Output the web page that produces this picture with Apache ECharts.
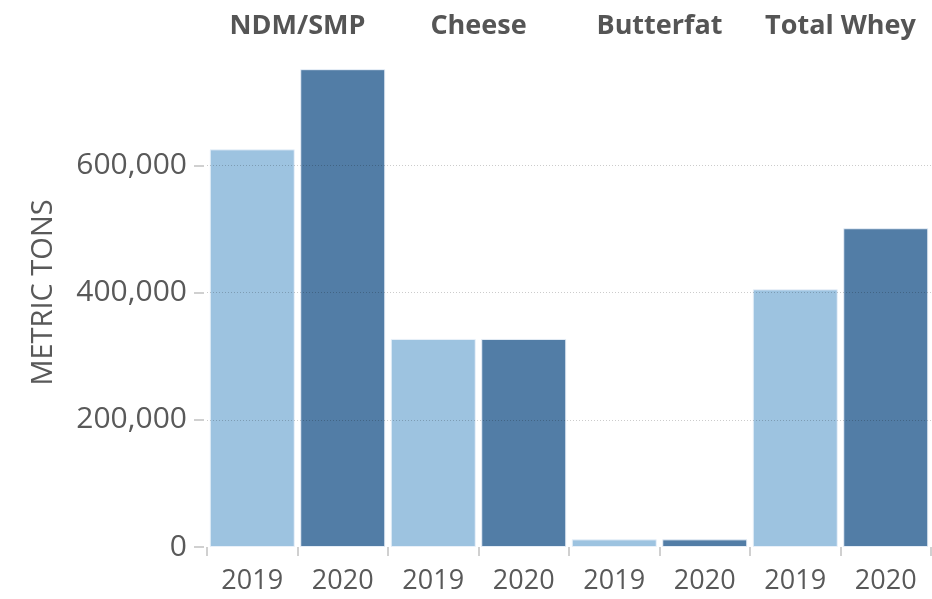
<!DOCTYPE html>
<html>
<head>
<meta charset="utf-8">
<script src="https://cdn.jsdelivr.net/npm/echarts@6/dist/echarts.min.js"></script>
<style>
html,body{margin:0;padding:0;background:#fff;}
#chart{width:932px;height:599px;}
</style>
</head>
<body>
<div id="chart"></div>
<script>
// ---- data ----
const groups = ['NDM/SMP', 'Cheese', 'Butterfat', 'Total Whey'];
const years = ['2019', '2020'];
const values2019 = [625000, 327000, 12000, 405000];
const values2020 = [751000, 327000, 12000, 501000];
const yTicks = [0, 200000, 400000, 600000];
const yTitle = 'METRIC TONS';

// ---- build ----
const colors = {'2019': '#9DC3E0', '2020': '#527DA6'};
const cats = [];
const barData = [];
groups.forEach((g, i) => {
  years.forEach(y => {
    cats.push(g + '|' + y);
    const v = y === '2019' ? values2019[i] : values2020[i];
    barData.push({value: v, itemStyle: {color: colors[y]}});
  });
});

const textColor = '#595959';
const chart = echarts.init(document.getElementById('chart'), null, {renderer: 'canvas'});
chart.setOption({
  animation: false,
  backgroundColor: '#ffffff',
  grid: {left: 207, right: 1, top: 38, bottom: 52, containLabel: false},
  xAxis: [
    {
      type: 'category',
      data: cats,
      position: 'bottom',
      offset: 5,
      axisLine: {show: false},
      axisTick: {show: true, length: 9, lineStyle: {color: '#d0d0d0', width: 2}},
      axisLabel: {
        color: textColor, fontFamily: 'Open Sans', fontSize: 27,
        margin: 29, verticalAlign: 'middle', interval: 0,
        formatter: v => v.split('|')[1]
      },
      splitLine: {show: false}
    },
    {
      type: 'category',
      data: groups,
      position: 'top',
      axisLine: {show: false},
      axisTick: {show: false},
      axisLabel: {
        color: '#555555', fontFamily: 'Open Sans', fontWeight: 'bold', fontSize: 27,
        margin: 12, verticalAlign: 'middle', interval: 0
      },
      splitLine: {show: false}
    }
  ],
  yAxis: {
    type: 'value',
    min: 0,
    max: 800000,
    interval: 200000,
    offset: 3,
    z: 3,
    name: yTitle,
    nameLocation: 'middle',
    nameGap: 146,
    nameTextStyle: {color: textColor, fontFamily: 'Open Sans', fontSize: 29},
    axisLine: {show: false},
    axisTick: {show: true, length: 10, lineStyle: {color: '#d0d0d0', width: 2}},
    axisLabel: {
      color: textColor, fontFamily: 'Open Sans', fontSize: 30, margin: 17,
      showMaxLabel: false,
      formatter: v => yTicks.indexOf(v) >= 0 ? v.toLocaleString('en-US') : ''
    },
    splitLine: {
      show: true, showMinLine: false, showMaxLine: false,
      lineStyle: {color: 'rgba(0,0,0,0.2)', type: [1, 2], width: 1}
    }
  },
  series: [{
    type: 'bar',
    xAxisIndex: 0,
    data: barData,
    barWidth: 85,
    itemStyle: {borderColor: 'rgba(235,242,250,0.9)', borderWidth: 1}
  }]
});
</script>
</body>
</html>
